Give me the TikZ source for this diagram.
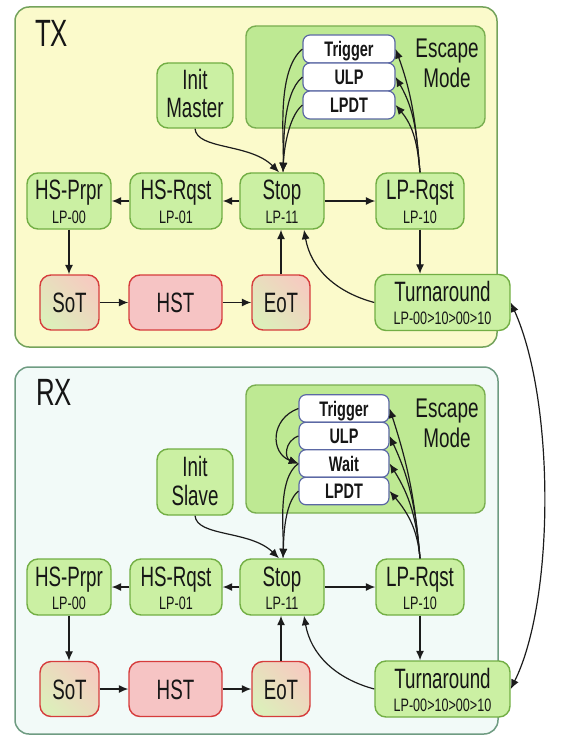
\documentclass[tikz,border=0pt]{standalone}
\usepackage{fontspec}
\setmainfont{Liberation Sans}
\usetikzlibrary{arrows.meta}
\definecolor{txfill}{HTML}{FBFACB}
\definecolor{txline}{HTML}{74A35C}
\definecolor{rxfill}{HTML}{F2FAF8}
\definecolor{rxline}{HTML}{6F9C82}
\definecolor{gfill}{HTML}{CBF0A3}
\definecolor{gline}{HTML}{72AE44}
\definecolor{efill}{HTML}{BEE993}
\definecolor{eline}{HTML}{79AE50}
\definecolor{sline}{HTML}{5B68A4}
\definecolor{rline}{HTML}{D63C3C}
\definecolor{hstfill}{HTML}{F6C4C4}
\definecolor{pinkish}{HTML}{F5CCC0}
\definecolor{greenish}{HTML}{DDEEBB}
\definecolor{textc}{HTML}{161616}
\definecolor{linec}{HTML}{1C1C1C}
\tikzset{
  panel/.style={line width=1.5pt, rounded corners=14pt, inner sep=0},
  gbox/.style={draw=gline, fill=gfill, line width=1.4pt, rounded corners=11pt, minimum height=56pt, inner sep=0},
  rbox/.style={draw=rline, line width=1.4pt, rounded corners=11pt, minimum height=55pt, inner sep=0},
  sotfill/.style={left color=pinkish, right color=greenish, shading angle=-45},
  ebox/.style={draw=eline, fill=efill, line width=1.4pt, rounded corners=10pt, inner sep=0},
  sbox/.style={draw=sline, fill=white, line width=1.2pt, rounded corners=7pt, minimum height=28pt, inner sep=0},
  mainT/.style={xscale=0.67, inner sep=0, anchor=base, text=textc, font=\fontsize{28}{28}\selectfont},
  subT/.style={xscale=0.7, inner sep=0, anchor=base, text=textc, font=\fontsize{18}{18}\selectfont},
  boldT/.style={xscale=0.69, inner sep=0, anchor=base, text=textc, font=\bfseries\fontsize{21}{21}\selectfont},
  escT/.style={xscale=0.7, inner sep=0, anchor=base, text=textc, font=\fontsize{27}{27}\selectfont},
  titleT/.style={xscale=0.68, inner sep=0, anchor=base west, text=textc, font=\fontsize{38}{38}\selectfont},
  conn/.style={draw=linec, line width=1.2pt, -{Latex[length=9.5pt,width=8pt]}},
}
% name, x, y(px, down), width, main, sub
\newcommand\stbox[6]{%
  \node[gbox, minimum width=#4pt] (#1) at (#2,-#3) {};
  \node[mainT] (#1-a) at (#2,-#3+1) {#5};
  \node[subT] (#1-b) at (#2,-#3-22) {#6};}
% name, x, y, width, text, fill style
\newcommand\rdbox[6]{%
  \node[rbox, #6, minimum width=#4pt] (#1) at (#2,-#3) {};
  \node[mainT] (#1-a) at (#2,-#3-10) {#5};}
% name, x, y, width, height, text
\newcommand\esbox[6]{%
  \node[sbox, minimum width=#4pt, minimum height=#5pt] (#1) at (#2,-#3) {};
  \node[boldT] (#1-a) at (#2,-#3-7.5) {#6};}
\begin{document}
\begin{tikzpicture}[x=1pt,y=1pt]
\useasboundingbox (0,0) rectangle (560,-746);
% ---------- panels ----------
\node[panel, draw=txline, fill=txfill, minimum width=482pt, minimum height=340pt] (txp) at (256,-177) {};
\node[panel, draw=rxline, fill=rxfill, minimum width=483pt, minimum height=367pt] (rxp) at (256.5,-550.5) {};
\node[titleT] (txt) at (35,-47) {TX};
\node[titleT] (rxt) at (36,-405) {RX};
% ---------- TX ----------
\node[ebox, minimum width=239pt, minimum height=102pt] (tesc) at (365.5,-77) {};
\node[escT] (tesc-a) at (447,-58) {Escape};
\node[escT] (tesc-b) at (447,-88) {Mode};
\esbox{ttrig}{349}{49}{92}{28}{Trigger}
\esbox{tulp}{349}{77}{92}{28}{ULP}
\esbox{tlpdt}{349}{105}{92}{28}{LPDT}
\node[gbox, minimum width=76pt, minimum height=65pt] (tinit) at (195,-95.5) {};
\node[mainT] (tinit-a) at (195,-90) {Init};
\node[mainT] (tinit-b) at (195,-118) {Master};
\stbox{thsp}{69}{201}{84}{HS-Prpr}{LP-00}
\stbox{thsr}{176}{201}{92}{HS-Rqst}{LP-01}
\stbox{tstop}{282}{201}{84}{Stop}{LP-11}
\stbox{tlp}{420}{201}{88}{LP-Rqst}{LP-10}
\rdbox{tsot}{69.5}{302.5}{59}{SoT}{sotfill}
\rdbox{thst}{175.5}{302.5}{93}{HST}{fill=hstfill}
\rdbox{teot}{281}{302.5}{58}{EoT}{sotfill}
\stbox{tturn}{442.5}{302.5}{135}{Turnaround}{LP-00>10>00>10}
% TX connectors
\draw[conn] (tinit.south) .. controls (197,-150) and (250,-143) .. ([xshift=-3pt]tstop.north);
\draw[conn] (ttrig.west) to[out=220,in=88,looseness=0.7] ([xshift=1pt]tstop.north);
\draw[conn] (tulp.west) to[out=220,in=88,looseness=0.7] ([xshift=1pt]tstop.north);
\draw[conn] (tlpdt.west) to[out=220,in=88,looseness=0.7] ([xshift=1pt]tstop.north);
\draw[conn] (tlp.north) to[out=95,in=-70] (ttrig.east);
\draw[conn] (tlp.north) to[out=95,in=-60] (tulp.east);
\draw[conn] (tlp.north) to[out=95,in=-50] (tlpdt.east);
\draw[conn] (tstop.west) -- (thsr.east);
\draw[conn] (thsr.west) -- (thsp.east);
\draw[conn] (thsp.south) -- (thsp.south |- tsot.north);
\draw[conn] (tsot.east) -- (thst.west);
\draw[conn] (thst.east) -- (teot.west);
\draw[conn] (teot.north) -- (teot.north |- tstop.south);
\draw[conn] (tstop.east) -- (tlp.west);
\draw[conn] (tlp.south) -- (tlp.south |- tturn.north);
\draw[conn] (tturn.west) to[out=165,in=-80] ([xshift=22pt]tstop.south);
% ---------- RX ----------
\node[ebox, minimum width=239pt, minimum height=128pt] (resc) at (365.5,-449) {};
\node[escT] (resc-a) at (447,-417) {Escape};
\node[escT] (resc-b) at (447,-447) {Mode};
\esbox{rtrig}{344}{408.5}{90}{27.5}{Trigger}
\esbox{rulp}{344}{436}{90}{27.5}{ULP}
\esbox{rwait}{344}{463.5}{90}{27.5}{Wait}
\esbox{rlpdt}{344}{491}{90}{27.5}{LPDT}
\node[gbox, minimum width=76pt, minimum height=66pt] (rinit) at (195,-482) {};
\node[mainT] (rinit-a) at (195,-476) {Init};
\node[mainT] (rinit-b) at (195,-505) {Slave};
\stbox{rhsp}{69}{587}{84}{HS-Prpr}{LP-00}
\stbox{rhsr}{176}{587}{92}{HS-Rqst}{LP-01}
\stbox{rstop}{282}{587}{84}{Stop}{LP-11}
\stbox{rlp}{420}{587}{88}{LP-Rqst}{LP-10}
\rdbox{rsot}{69.5}{689}{59}{SoT}{sotfill}
\rdbox{rhst}{175.5}{689}{93}{HST}{fill=hstfill}
\rdbox{reot}{281}{689}{58}{EoT}{sotfill}
\stbox{rturn}{442.5}{689}{135}{Turnaround}{LP-00>10>00>10}
% RX connectors
\draw[conn] (rinit.south) .. controls (197,-537) and (250,-530) .. ([xshift=-3pt]rstop.north);
\draw[conn] (rtrig.west) to[out=200,in=160,looseness=1.4] (rwait.west);
\draw[conn] (rulp.west) to[out=200,in=160,looseness=1.4] (rwait.west);
\draw[conn] (rwait.west) to[out=215,in=88,looseness=0.7] ([xshift=1pt]rstop.north);
\draw[conn] (rlpdt.west) to[out=220,in=88,looseness=0.7] ([xshift=1pt]rstop.north);
\draw[conn] (rlp.north) to[out=95,in=-72] (rtrig.east);
\draw[conn] (rlp.north) to[out=95,in=-65] (rulp.east);
\draw[conn] (rlp.north) to[out=95,in=-58] (rwait.east);
\draw[conn] (rlp.north) to[out=95,in=-50] (rlpdt.east);
\draw[conn] (rstop.west) -- (rhsr.east);
\draw[conn] (rhsr.west) -- (rhsp.east);
\draw[conn] (rhsp.south) -- (rhsp.south |- rsot.north);
\draw[conn] (rsot.east) -- (rhst.west);
\draw[conn] (rhst.east) -- (reot.west);
\draw[conn] (reot.north) -- (reot.north |- rstop.south);
\draw[conn] (rstop.east) -- (rlp.west);
\draw[conn] (rlp.south) -- (rlp.south |- rturn.north);
\draw[conn] (rturn.west) to[out=165,in=-80] ([xshift=22pt]rstop.south);
% TX <-> RX turnaround
\draw[conn, {Latex[length=9.5pt,width=8pt]}-{Latex[length=9.5pt,width=8pt]}] (tturn.east) .. controls (555,-400) and (555,-600) .. (rturn.east);
\end{tikzpicture}
\end{document}
